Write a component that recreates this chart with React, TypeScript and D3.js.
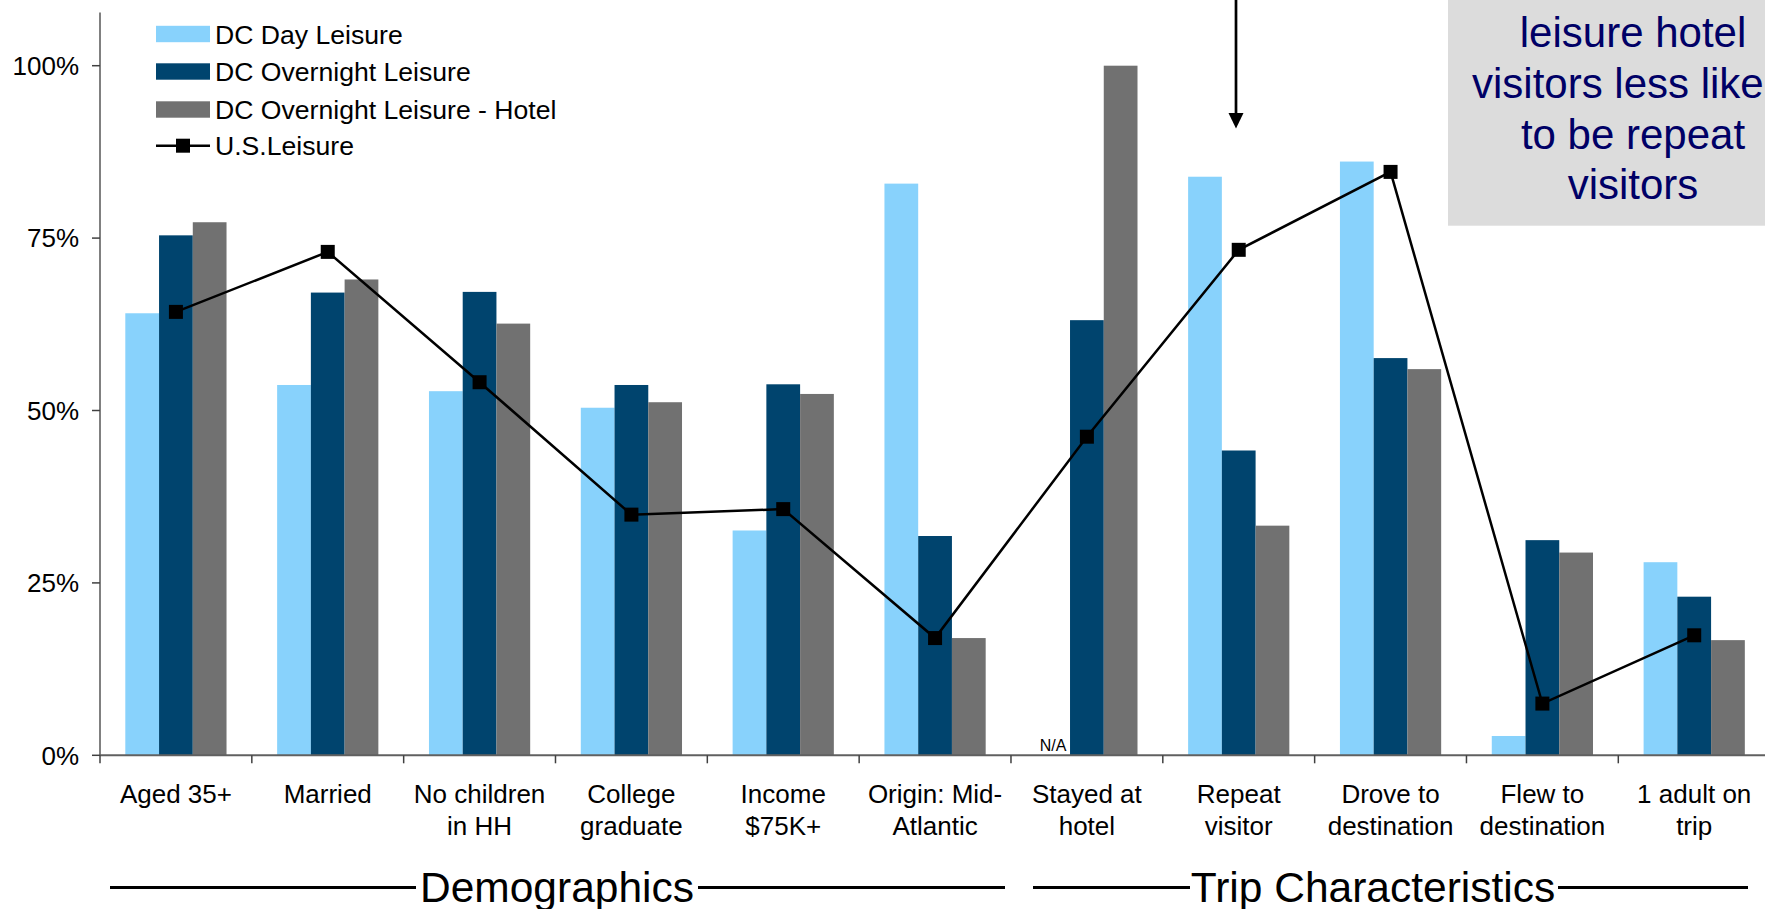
import React from "react";
import * as d3 from "d3";

const categories = [
  "Aged 35+",
  "Married",
  "No children\nin HH",
  "College\ngraduate",
  "Income\n$75K+",
  "Origin: Mid-\nAtlantic",
  "Stayed at\nhotel",
  "Repeat\nvisitor",
  "Drove to\ndestination",
  "Flew to\ndestination",
  "1 adult on\ntrip",
];

const dayLeisure: (number | null)[] = [64.1, 53.7, 52.8, 50.4, 32.6, 82.9, null, 83.9, 86.1, 2.8, 28.0];
const overnightLeisure: number[] = [75.4, 67.1, 67.2, 53.7, 53.8, 31.8, 63.1, 44.2, 57.6, 31.2, 23.0];
const overnightHotel: number[] = [77.3, 69.0, 62.6, 51.2, 52.4, 17.0, 100, 33.3, 56.0, 29.4, 16.7];
const usLeisure: number[] = [64.3, 73.0, 54.1, 34.9, 35.7, 17.0, 46.2, 73.3, 84.6, 7.5, 17.4];

const seriesNames = ["DC Day Leisure", "DC Overnight Leisure", "DC Overnight Leisure - Hotel"];
const lineName = "U.S.Leisure";
const yTicks = [0, 25, 50, 75, 100];
const groupLabels = ["Demographics", "Trip Characteristics"];
const noteLines = ["leisure hotel", "visitors less likely", "to be repeat", "visitors"];
const naLabel = "N/A";

const colors = ["#88D2FC", "#00446E", "#717171"];
const FONT = "'Liberation Sans', Arial, Helvetica, sans-serif";

export default function App() {
  const W = 1765;
  const H = 909;
  const x0 = 100;
  const bw = 151.83;
  const x = d3
    .scaleBand<string>()
    .domain(categories)
    .range([x0, x0 + bw * categories.length])
    .padding(0);
  const sub = d3
    .scaleBand<string>()
    .domain(seriesNames)
    .range([0, x.bandwidth()])
    .paddingInner(0)
    .paddingOuter(0.75);
  const y = d3.scaleLinear().domain([0, 100]).range([755.3, 65.7]);

  const series = [dayLeisure, overnightLeisure, overnightHotel];

  const line = d3
    .line<number>()
    .x((_, i) => (x(categories[i]) as number) + x.bandwidth() / 2)
    .y((d) => y(d));

  const ms = 14;

  const legendRows = [34, 71.5, 109.5, 145.7];

  return (
    <div style={{ position: "absolute", left: 0, top: 0 }}>
      <svg width={W} height={H} style={{ display: "block", overflow: "hidden", background: "#fff" }} fontFamily={FONT}>
        {/* bars */}
        {series.map((vals, si) =>
          vals.map((v, ci) =>
            v == null ? null : (
              <rect
                key={`b${si}-${ci}`}
                x={(x(categories[ci]) as number) + (sub(seriesNames[si]) as number)}
                y={y(v)}
                width={sub.bandwidth()}
                height={y(0) - y(v)}
                fill={colors[si]}
              />
            )
          )
        )}
        {/* N/A label */}
        {dayLeisure.map((v, ci) =>
          v == null ? (
            <text
              key={`na${ci}`}
              x={(x(categories[ci]) as number) + (sub(seriesNames[0]) as number) + sub.bandwidth() / 2}
              y={750.5}
              fontSize={16}
              textAnchor="middle"
              fill="#000"
            >
              {naLabel}
            </text>
          ) : null
        )}

        {/* y axis */}
        <line x1={x0} x2={x0} y1={y(107.7)} y2={y(0)} stroke="#808080" strokeWidth={2} />
        {yTicks.map((t) => (
          <g key={`yt${t}`}>
            <line x1={x0 - 8} x2={x0} y1={y(t)} y2={y(t)} stroke="#404040" strokeWidth={1.5} />
            <text x={79} y={y(t)} dy="0.36em" fontSize={26} textAnchor="end" fill="#000">
              {t}%
            </text>
          </g>
        ))}

        {/* x axis */}
        <line x1={x0} x2={W + 10} y1={y(0)} y2={y(0)} stroke="#606060" strokeWidth={2} />
        {categories.map((c, i) => (
          <line
            key={`xt${i}`}
            x1={x(c) as number}
            x2={x(c) as number}
            y1={y(0)}
            y2={y(0) + 8}
            stroke="#404040"
            strokeWidth={1.5}
          />
        ))}
        {categories.map((c) => {
          const parts = c.split("\n");
          const cx = (x(c) as number) + x.bandwidth() / 2;
          return (
            <text key={`xl${c}`} fontSize={26} textAnchor="middle" fill="#000">
              {parts.map((p, k) => (
                <tspan key={k} x={cx} y={802.5 + k * 32.6}>
                  {p}
                </tspan>
              ))}
            </text>
          );
        })}

        {/* U.S. line */}
        <path d={line(usLeisure) || ""} fill="none" stroke="#000" strokeWidth={2.5} />
        {usLeisure.map((v, i) => (
          <rect
            key={`m${i}`}
            x={(x(categories[i]) as number) + x.bandwidth() / 2 - ms / 2}
            y={y(v) - ms / 2}
            width={ms}
            height={ms}
            fill="#000"
          />
        ))}

        {/* legend */}
        {seriesNames.map((n, i) => (
          <g key={`lg${i}`}>
            <rect x={156} y={legendRows[i] - 8.2} width={54} height={16.4} fill={colors[i]} />
            <text x={215} y={legendRows[i]} dy="0.36em" fontSize={26.6} fill="#000">
              {n}
            </text>
          </g>
        ))}
        <g>
          <line x1={156} x2={210} y1={legendRows[3]} y2={legendRows[3]} stroke="#000" strokeWidth={2.5} />
          <rect x={183 - 7} y={legendRows[3] - 7} width={14} height={14} fill="#000" />
          <text x={215} y={legendRows[3]} dy="0.36em" fontSize={26.6} fill="#000">
            {lineName}
          </text>
        </g>

        {/* group labels */}
        <g>
          <line x1={110} x2={416} y1={887.5} y2={887.5} stroke="#000" strokeWidth={3} />
          <line x1={698} x2={1005} y1={887.5} y2={887.5} stroke="#000" strokeWidth={3} />
          <text x={557} y={902} fontSize={42.5} textAnchor="middle" fill="#000">
            {groupLabels[0]}
          </text>
          <line x1={1033} x2={1190} y1={887.5} y2={887.5} stroke="#000" strokeWidth={3} />
          <line x1={1558} x2={1748} y1={887.5} y2={887.5} stroke="#000" strokeWidth={3} />
          <text x={1373} y={902} fontSize={42.5} textAnchor="middle" fill="#000">
            {groupLabels[1]}
          </text>
        </g>

        {/* annotation box */}
        <rect x={1448} y={-5} width={400} height={230.7} fill="#DCDCDC" />
        {noteLines.map((t, i) => (
          <text key={`n${i}`} x={1633} y={47 + i * 50.8} fontSize={42} textAnchor="middle" fill="#000066">
            {t}
          </text>
        ))}

        {/* arrow */}
        <line x1={1236} x2={1236} y1={0} y2={115} stroke="#000" strokeWidth={2.7} />
        <path d="M1228.5,113 L1243.5,113 L1236,128.5 Z" fill="#000" />
      </svg>
    </div>
  );
}
